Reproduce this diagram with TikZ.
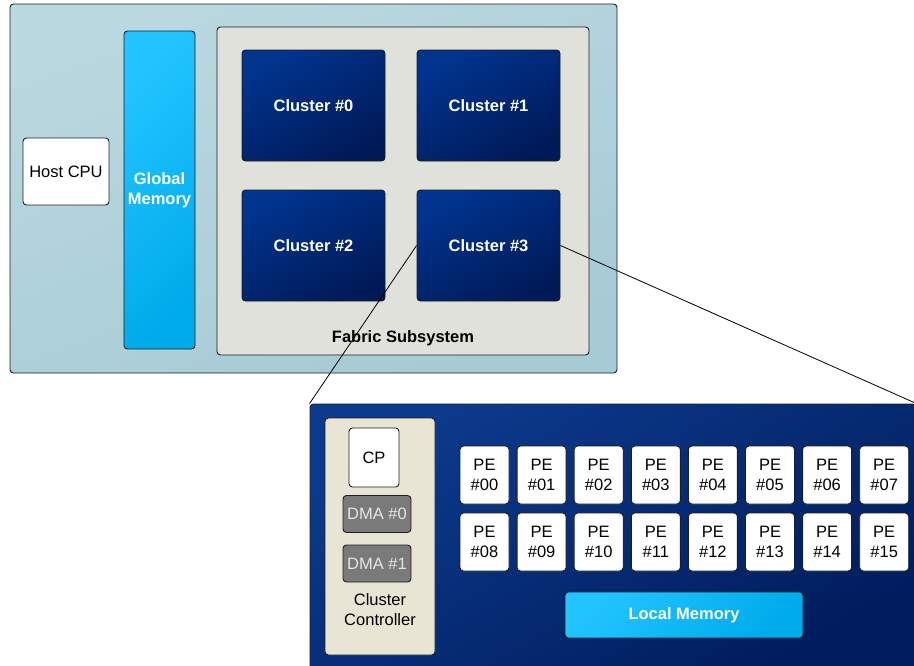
\documentclass[tikz,border=0pt]{standalone}
\usepackage{fontspec}
\setmainfont{Liberation Sans}
\definecolor{socA}{HTML}{BAD8E0}
\definecolor{socB}{HTML}{A6CBD5}
\definecolor{fabric}{HTML}{E1E1DC}
\definecolor{navyA}{HTML}{00348E}
\definecolor{navyB}{HTML}{001A58}
\definecolor{panelA}{HTML}{0C3A8C}
\definecolor{panelB}{HTML}{001C5C}
\definecolor{memA}{HTML}{22C4FF}
\definecolor{memB}{HTML}{00ABEB}
\definecolor{ctrl}{HTML}{E9E5D5}
\definecolor{dma}{HTML}{7A7A7A}
\definecolor{edge}{HTML}{1E1E1E}
\tikzset{
  txt/.style={font=\fontsize{16.5}{20}\selectfont, align=center},
  box/.style={draw=edge, line width=0.9pt, rounded corners=3.5pt, inner sep=0pt, txt},
  whitebox/.style={box, fill=white, text=black},
  cluster/.style={box, top color=navyA, bottom color=navyB, shading angle=30,
    text=white, font=\fontsize{16.5}{20}\selectfont\bfseries,
    minimum width=143pt, minimum height=111pt},
  membox/.style={box, top color=memA, bottom color=memB, shading angle=45,
    text=white, font=\fontsize{16.5}{20}\selectfont\bfseries},
  dmabox/.style={box, fill=dma, text=white!90!black, minimum width=68pt, minimum height=37pt},
  pebox/.style={whitebox, minimum width=49pt, minimum height=58pt},
  link/.style={draw=black, line width=0.8pt}
}
\begin{document}
\begin{tikzpicture}[x=1pt, y=-1pt]
\useasboundingbox (0,0) rectangle (914,665);
\clip (0,0) rectangle (914,665);

% system board
\node[box, top color=socA, bottom color=socB, shading angle=20,
  minimum width=607pt, minimum height=369pt] (soc) at (313.5,188.5) {};
\node[whitebox, minimum width=86pt, minimum height=67pt] (host) at (66,171.5) {Host CPU};
\node[membox, minimum width=71pt, minimum height=318pt] (gmem) at (159.5,190) {Global\\Memory};

% fabric with its four clusters
\node[box, fill=fabric, minimum width=372pt, minimum height=328pt] (fabric) at (403,191) {};
\node[txt, font=\fontsize{16.5}{20}\selectfont\bfseries] (fabriclbl) at (403,338) {Fabric Subsystem};
\node[cluster] (c0) at (313.5,105.5) {Cluster \#0};
\node[cluster] (c1) at (488.5,105.5) {Cluster \#1};
\node[cluster] (c2) at (313.5,245.5) {Cluster \#2};
\node[cluster] (c3) at (488.5,245.5) {Cluster \#3};

% expanded view of one cluster
\node[box, top color=panelA, bottom color=panelB, shading angle=30,
  minimum width=606pt, minimum height=276pt] (panel) at (613,542) {};
\draw[link] (c3.west) -- (panel.north west);
\draw[link] (c3.east) -- (panel.north east);

\node[box, fill=ctrl, minimum width=110pt, minimum height=237pt] (ctrl) at (380,536.5) {};
\node[whitebox, minimum width=50pt, minimum height=59pt] (cp) at (374,457.5) {CP};
\node[dmabox] (dma0) at (377,514) {DMA \#0};
\node[dmabox] (dma1) at (377,563.5) {DMA \#1};
\node[txt] (ctrllbl) at (380,609.5) {Cluster\\Controller};

\foreach \i in {0,...,7} {
  \pgfmathsetmacro{\cx}{484.5+57.1*\i}
  \pgfmathtruncatemacro{\j}{\i+8}
  \node[pebox] (pe\i) at (\cx,475) {PE\\\#0\i};
  \node[pebox] (pe\j) at (\cx,542) {PE\\\#\ifnum\j<10 0\fi\j};
}

\node[membox, minimum width=238pt, minimum height=46pt] (lmem) at (684,615) {Local Memory};
\end{tikzpicture}
\end{document}
